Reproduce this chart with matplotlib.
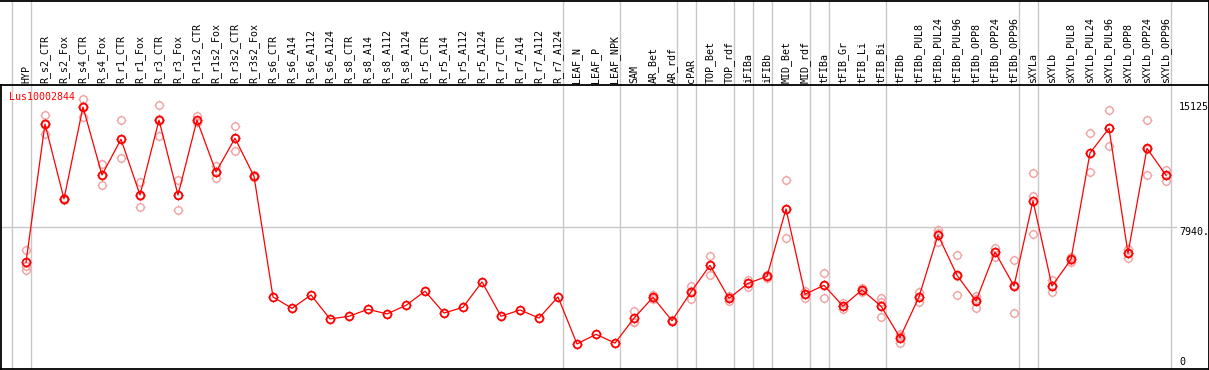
import matplotlib
matplotlib.use("Agg")
import matplotlib.pyplot as plt
from matplotlib.path import Path
from matplotlib.transforms import blended_transform_factory
from matplotlib.lines import Line2D

categories = ["HYP", "R_s2_CTR", "R_s2_Fox", "R_s4_CTR", "R_s4_Fox", "R_r1_CTR", "R_r1_Fox",
              "R_r3_CTR", "R_r3_Fox", "R_r1s2_CTR", "R_r1s2_Fox", "R_r3s2_CTR", "R_r3s2_Fox",
              "R_s6_CTR", "R_s6_A14", "R_s6_A112", "R_s6_A124", "R_s8_CTR", "R_s8_A14",
              "R_s8_A112", "R_s8_A124", "R_r5_CTR", "R_r5_A14", "R_r5_A112", "R_r5_A124",
              "R_r7_CTR", "R_r7_A14", "R_r7_A112", "R_r7_A124", "LEAF_N", "LEAF_P", "LEAF_NPK",
              "SAM", "AR_Bet", "AR_rdf", "cPAR", "TOP_Bet", "TOP_rdf", "iFIBa", "iFIBb",
              "MID_Bet", "MID_rdf", "tFIBa", "tFIB_Gr", "tFIB_Li", "tFIB_Bi", "tFIBb",
              "tFIBb_PUL8", "tFIBb_PUL24", "tFIBb_PUL96", "tFIBb_OPP8", "tFIBb_OPP24",
              "tFIBb_OPP96", "sXYLa", "sXYLb", "sXYLb_PUL8", "sXYLb_PUL24", "sXYLb_PUL96",
              "sXYLb_OPP8", "sXYLb_OPP24", "sXYLb_OPP96"]

means = [5970, 13700, 9510, 14650, 10850, 12850, 9730, 13920, 9730, 13920, 11020, 12900, 10780,
         4030, 3390, 4140, 2800, 2950, 3340, 3080, 3560, 4350, 3130, 3450, 4870, 2950, 3300,
         2850, 4030, 1400, 1940, 1450, 2840, 4010, 2700, 4310, 5800, 3950, 4790, 5180, 8950,
         4180, 4680, 3520, 4420, 3520, 1750, 4030, 7490, 5240, 3800, 6540, 4640, 9400, 4640,
         6130, 12080, 13460, 6470, 12340, 10830]

replicates = [
    [6650, 5760, 5540], [14200, 13140, 13760], [9560, 9500, 9460], [15125, 14110, 14720],
    [11450, 10270, 10830], [13910, 11780, 12850], [10440, 9060, 9690], [14760, 13030, 13970],
    [10570, 8890, 9730], [14170, 13800, 13800], [11350, 10660, 11040], [13570, 12190, 12940],
    [10830, 10750, 10760],
    [], [], [], [], [], [], [], [], [], [], [], [], [], [], [], [], [], [], [],
    [3260, 2650, 2610], [4140, 3950, 3940], [2740, 2680, 2680], [4640, 3910, 4380],
    [6320, 5260, 5820], [4080, 3820, 3950], [4980, 4570, 4820], [5240, 5090, 5210],
    [10570, 7310, 8970], [4360, 3990, 4190], [5370, 3950, 4720], [3670, 3340, 3550],
    [4520, 4320, 4420], [3950, 2890, 3720], [1960, 1470, 1820], [4330, 3730, 4030],
    [7770, 7120, 7580], [6380, 4140, 5200], [4080, 3430, 3890], [6780, 6280, 6560],
    [6100, 3110, 4710], [10940, 9670, 7530], [4980, 4290, 4650], [6280, 6000, 6110],
    [13180, 11000, 12060], [14470, 12450, 13460], [6720, 6230, 6460], [13910, 10830, 12280],
    [11130, 10510, 10850],
]

group_ends = [-1, 0, 28, 31, 34, 35, 37, 38, 39, 41, 42, 45, 52, 53, 60]
gene_name = "Lus10002844"
max_value = 15125
mid_value = 7940
right_labels = ["15125", "7940.", "0"]

W, H = 1209, 370
fig = plt.figure(figsize=(W / 100, H / 100), dpi=100)
fig.patch.set_facecolor("white")

# plot box in pixels: x 1..1208, y 85..369
ax = fig.add_axes([1 / W, 1 / H, 1207 / W, 284 / H])
x0_px, step_px = 26, 19
ax.set_xlim((1 - x0_px) / step_px, (1208 - x0_px) / step_px)
ax.set_ylim(0, max_value * 1.05)
ax.axis("off")

mono = "DejaVu Sans Mono"
grey = "#c8c8c8"
pink = "#f0a0a0"
red = "#ff0000"

# short tick stubs around circle markers
segs = []
for (a, b) in [((1, 0), (1.3, 0)), ((-1, 0), (-1.3, 0)), ((0, 1), (0, 1.3)), ((0, -1), (0, -1.3))]:
    segs.append(Path([a, b], [Path.MOVETO, Path.LINETO]))
tick_path = Path.make_compound_path(*segs)

# vertical separators spanning full figure height
sep_offset = 5 / step_px
for g in group_ends:
    ax.axvline(g + sep_offset, ymin=-1 / 284, ymax=H / 284, color=grey, lw=1.0,
               clip_on=False, zorder=1)

# horizontal mid grid line
ax.axhline(mid_value, xmin=0, xmax=(1176 - 1) / 1207, color=grey, lw=1.0, zorder=1)

xs = list(range(len(categories)))

# replicates
for i, reps in enumerate(replicates):
    if reps:
        ax.plot([i] * len(reps), reps, linestyle="none", marker="o", markersize=5.4,
                markerfacecolor="none", markeredgecolor=pink, markeredgewidth=1.0, zorder=2)
        ax.plot([i] * len(reps), reps, linestyle="none", marker=tick_path, markersize=7.0,
                markerfacecolor="none", markeredgecolor=pink, markeredgewidth=0.7, zorder=2)

# mean line and markers
ax.plot(xs, means, color=red, lw=0.9, zorder=3)
ax.plot(xs, means, linestyle="none", marker="o", markersize=5.6,
        markerfacecolor="none", markeredgecolor=red, markeredgewidth=1.3, zorder=4)
ax.plot(xs, means, linestyle="none", marker=tick_path, markersize=7.3,
        markerfacecolor="none", markeredgecolor=red, markeredgewidth=0.7, zorder=4)

# category labels in top band
trans = blended_transform_factory(ax.transData, fig.transFigure)
for i, c in enumerate(categories):
    ax.text(i, (H - 83) / H, c, rotation=90, ha="center", va="bottom", family=mono,
            fontsize=7.2, color="black", transform=trans, clip_on=False)

# gene label
fig.text(9 / W, (H - 97) / H, gene_name, ha="left", va="center", family=mono,
         fontsize=7.2, color=red)

# right axis labels
for lab, ypx in zip(right_labels, [107, 232, 362]):
    fig.text(1179 / W, (H - ypx) / H, lab, ha="left", va="center", family=mono,
             fontsize=7.2, color="black")

# frame lines
def hline(ypx, x1, x2):
    fig.add_artist(Line2D([x1 / W, x2 / W], [(H - ypx) / H] * 2, color="black", lw=1.3,
                          transform=fig.transFigure))

def vline(xpx, y1, y2):
    fig.add_artist(Line2D([xpx / W] * 2, [(H - y1) / H, (H - y2) / H], color="black", lw=1.3,
                          transform=fig.transFigure))

hline(0.5, 0, W)
hline(85, 0, W)
hline(369, 0, W)
vline(1, 85, 369)
vline(1208.5, 0, 370)

fig.savefig("out.png", dpi=100, facecolor="white")
